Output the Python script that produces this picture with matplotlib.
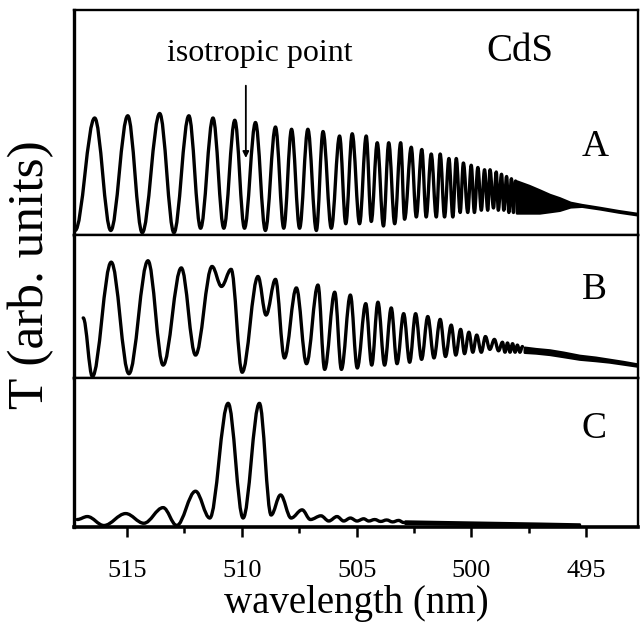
import numpy as np
import matplotlib.pyplot as plt
from matplotlib.path import Path
from matplotlib.patches import PathPatch

plt.rcParams['font.family'] = ['Liberation Serif', 'DejaVu Serif']

# extrema of the transmission fringes (wavelength nm, value)
a_nm = [517.25, 516.40, 515.70, 514.96, 514.33, 513.57, 512.95, 512.30, 511.79, 511.25,
        510.78, 510.30, 509.88, 509.40, 508.97, 508.53, 508.17, 507.83, 507.48, 507.12,
        506.75, 506.46, 506.10, 505.74, 505.47, 505.19, 504.87, 504.58, 504.36, 504.10,
        503.83, 503.60, 503.34, 503.08, 502.91, 502.62, 502.40, 502.16, 501.97, 501.75,
        501.53, 501.36, 501.17, 500.98, 500.81, 500.66, 500.49, 500.35, 500.16, 500.01,
        499.87, 499.72, 499.57, 499.43, 499.29, 499.19, 499.04, 498.92, 498.83, 498.69,
        498.59, 498.47, 498.37, 498.26, 498.17, 498.08]
a_val = [0.02, 0.52, 0.02, 0.53, 0.01, 0.54, 0.01, 0.53, 0.03, 0.52,
         0.03, 0.51, 0.03, 0.50, 0.02, 0.48, 0.03, 0.47, 0.03, 0.47,
         0.02, 0.46, 0.03, 0.44, 0.05, 0.45, 0.05, 0.44, 0.06, 0.41,
         0.04, 0.41, 0.05, 0.41, 0.07, 0.39, 0.08, 0.38, 0.08, 0.36,
         0.08, 0.36, 0.08, 0.34, 0.08, 0.34, 0.10, 0.32, 0.10, 0.31,
         0.10, 0.30, 0.11, 0.29, 0.11, 0.29, 0.12, 0.28, 0.11, 0.27,
         0.11, 0.26, 0.10, 0.25, 0.10, 0.24]
# unresolved dense part: upper / lower envelope
a_tail_nm = [498.04, 497.50, 497.04, 496.60, 496.17, 495.70, 495.20, 494.40, 493.60, 492.80]
a_tail_hi = [0.240, 0.220, 0.200, 0.180, 0.165, 0.145, 0.135, 0.122, 0.108, 0.096]
a_tail_lo = [0.098, 0.098, 0.098, 0.104, 0.110, 0.125, 0.128, 0.116, 0.102, 0.090]

b_nm = [516.90, 516.50, 515.68, 514.91, 514.08, 513.42, 512.63, 512.01, 511.29, 510.88,
        510.46, 509.98, 509.29, 508.94, 508.53, 508.14, 507.62, 507.18, 506.68, 506.39,
        505.95, 505.66, 505.27, 504.97, 504.60, 504.34, 504.07, 503.78, 503.49, 503.24,
        502.95, 502.69, 502.43, 502.17, 501.90, 501.63, 501.36, 501.13, 500.88, 500.68,
        500.47, 500.30, 500.11, 499.94, 499.77, 499.57, 499.39, 499.20, 499.00, 498.82,
        498.65, 498.54, 498.43, 498.32, 498.21, 498.10, 498.00, 497.89, 497.78]
b_val = [0.42, 0.01, 0.81, 0.03, 0.82, 0.09, 0.77, 0.16, 0.78, 0.64,
         0.76, 0.04, 0.71, 0.44, 0.69, 0.14, 0.63, 0.10, 0.65, 0.06,
         0.60, 0.06, 0.58, 0.07, 0.52, 0.09, 0.53, 0.09, 0.49, 0.10,
         0.45, 0.11, 0.45, 0.13, 0.43, 0.14, 0.41, 0.15, 0.37, 0.16,
         0.34, 0.17, 0.32, 0.18, 0.30, 0.18, 0.29, 0.20, 0.27, 0.19,
         0.25, 0.18, 0.245, 0.18, 0.24, 0.18, 0.23, 0.18, 0.22]
b_tail_nm = [497.70, 497.20, 496.60, 496.00, 495.30, 494.60, 494.00, 493.40, 492.80]
b_tail_hi = [0.215, 0.205, 0.196, 0.180, 0.158, 0.145, 0.130, 0.115, 0.098]
b_tail_lo = [0.180, 0.175, 0.165, 0.150, 0.132, 0.122, 0.112, 0.098, 0.084]

c_nm = [517.16, 516.72, 516.00, 515.05, 514.26, 513.42, 512.83, 512.01, 511.39, 510.59,
        509.94, 509.23, 508.72, 508.31, 507.85, 507.37, 507.01, 506.55, 506.21, 505.85,
        505.56, 505.27, 504.98, 504.69, 504.47, 504.21, 503.95, 503.69, 503.43, 503.17,
        502.95]
c_val = [0.05, 0.07, 0.01, 0.09, 0.025, 0.13, 0.01, 0.24, 0.06, 0.83,
         0.06, 0.83, 0.08, 0.215, 0.06, 0.115, 0.05, 0.075, 0.04, 0.07,
         0.04, 0.06, 0.04, 0.055, 0.04, 0.05, 0.037, 0.047, 0.034, 0.044,
         0.03]
c_tail_nm = [502.90, 501.00, 499.00, 497.00, 495.30]
c_tail_hi = [0.040, 0.035, 0.030, 0.025, 0.020]
c_tail_lo = [0.025, 0.020, 0.015, 0.012, 0.010]

panel_labels = ['A', 'B', 'C']
major_ticks = [515, 510, 505, 500, 495]
minor_ticks = [512.5, 507.5, 502.5, 497.5]


def fringe_path(nm, val, c=0.36):
    # smooth curve through the extrema, horizontal tangent at each one
    verts = [(nm[0], val[0])]
    codes = [Path.MOVETO]
    for i in range(1, len(nm)):
        x0, y0 = nm[i - 1], val[i - 1]
        x1, y1 = nm[i], val[i]
        dx = x1 - x0
        verts += [(x0 + c * dx, y0), (x1 - c * dx, y1), (x1, y1)]
        codes += [Path.CURVE4] * 3
    return Path(verts, codes)


fig = plt.figure(figsize=(6.43, 6.29), dpi=100)
gs = fig.add_gridspec(3, 1, height_ratios=[225, 143, 149], left=0.1151, right=0.9922,
                      top=0.9841, bottom=0.1622, hspace=0)
axes = [fig.add_subplot(gs[i]) for i in range(3)]

series = [(a_nm, a_val, a_tail_nm, a_tail_lo, a_tail_hi),
          (b_nm, b_val, b_tail_nm, b_tail_lo, b_tail_hi),
          (c_nm, c_val, c_tail_nm, c_tail_lo, c_tail_hi)]
label_pos = [(494.6, 0.39), (494.65, 0.615), (494.65, 0.66)]

for ax, (nm, val, tnm, tlo, thi), lab, (lx, ly) in zip(axes, series, panel_labels, label_pos):
    ax.add_patch(PathPatch(fringe_path(nm, val), fill=False, ec='k', lw=2.4,
                           joinstyle='round', capstyle='round'))
    ax.fill_between(tnm, tlo, thi, color='k', lw=1.8)
    ax.set_xlim(517.3, 492.75)
    ax.set_ylim(0, 1)
    ax.set_yticks([])
    for s in ax.spines.values():
        s.set_linewidth(1.7)
    ax.spines['left'].set_linewidth(2.4)
    ax.text(lx, ly, lab, fontsize=27, ha='center', va='center')
    ax.tick_params(axis='x', bottom=False, labelbottom=False)

ax_c = axes[2]
ax_c.spines['bottom'].set_linewidth(2.6)
ax_c.set_xticks(major_ticks)
ax_c.set_xticks(minor_ticks, minor=True)
ax_c.tick_params(axis='x', which='major', bottom=True, labelbottom=True, direction='out',
                 length=7, width=1.8, labelsize=19, pad=17)
ax_c.tick_params(axis='x', which='minor', bottom=True, direction='out', length=4, width=1.8)
ax_c.set_xlabel('wavelength (nm)', fontsize=28, labelpad=2)

ax_a = axes[0]
ax_a.text(509.2, 0.775, 'isotropic point', fontsize=23, ha='center', va='baseline')
ax_a.text(497.9, 0.775, 'CdS', fontsize=28, ha='center', va='baseline')
ax_a.annotate('', xy=(509.82, 0.33), xytext=(509.82, 0.676),
              arrowprops=dict(arrowstyle='-|>', color='k', lw=1.3, mutation_scale=9))

fig.text(31 / 643, 1 - 275 / 629, 'T (arb. units)', rotation=90, fontsize=37,
         ha='center', va='center')

fig.savefig('out.png', dpi=100)
